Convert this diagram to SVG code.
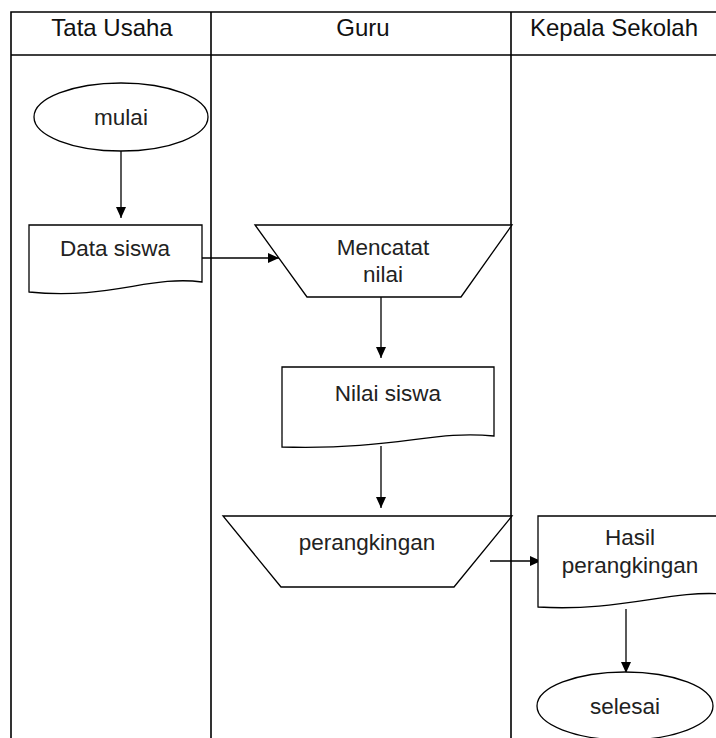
<svg xmlns="http://www.w3.org/2000/svg" width="716" height="738" viewBox="0 0 716 738">
<defs>
<marker id="ah" markerWidth="12" markerHeight="12" refX="11" refY="6" orient="auto" markerUnits="userSpaceOnUse">
<path d="M0,1 L11,6 L0,11 Z" fill="#000"/>
</marker>
<style>
.lane{stroke:#000;stroke-width:1.6;fill:none}
.shape{stroke:#000;stroke-width:1.3;fill:#fff}
.conn{stroke:#000;stroke-width:1.3;fill:none;marker-end:url(#ah)}
text{font-family:"Liberation Sans",Arial,sans-serif;font-size:22.5px;fill:#222;text-anchor:middle}
.hdr{font-size:24px;fill:#111}
</style>
</defs>
<rect width="716" height="738" fill="#fff"/>
<g id="lanes">
<path class="lane" d="M716,12 H11 V738 M11,55 H716 M211,12 V738 M511,12 V738"/>
<text class="hdr" x="112" y="36">Tata Usaha</text>
<text class="hdr" x="363" y="36">Guru</text>
<text class="hdr" x="614" y="36">Kepala Sekolah</text>
</g>
<g id="connectors">
<line class="conn" x1="121" y1="151" x2="121" y2="218"/>
<line class="conn" x1="202" y1="258" x2="279" y2="258"/>
<line class="conn" x1="381" y1="297" x2="381" y2="358"/>
<line class="conn" x1="381" y1="446" x2="381" y2="508"/>
<line class="conn" x1="490" y1="561" x2="541" y2="561"/>
<line class="conn" x1="626" y1="609" x2="626" y2="673"/>
</g>
<g id="mulai">
<ellipse class="shape" cx="121" cy="117" rx="87" ry="34"/>
<text x="121" y="125">mulai</text>
</g>
<g id="data-siswa">
<path class="shape" d="M29,225 H202 V282 C150,275 110,300 29,292 Z"/>
<text x="115" y="256">Data siswa</text>
</g>
<g id="mencatat-nilai">
<path class="shape" d="M255,225 H512 L461,297 H307 Z"/>
<text x="383" y="255">Mencatat</text>
<text x="383" y="282">nilai</text>
</g>
<g id="nilai-siswa">
<path class="shape" d="M282,367 H494 V436 C430,430 400,450 282,447 Z"/>
<text x="388" y="401">Nilai siswa</text>
</g>
<g id="perangkingan">
<path class="shape" d="M223,516 H512 L454,587 H281 Z"/>
<text x="367" y="550">perangkingan</text>
</g>
<g id="hasil-perangkingan">
<path class="shape" d="M538,516 H722 V594 C670,590 620,612 538,607 Z"/>
<text x="630" y="545">Hasil</text>
<text x="630" y="573">perangkingan</text>
</g>
<g id="selesai">
<ellipse class="shape" cx="625" cy="706" rx="88" ry="34"/>
<text x="625" y="714">selesai</text>
</g>
</svg>
